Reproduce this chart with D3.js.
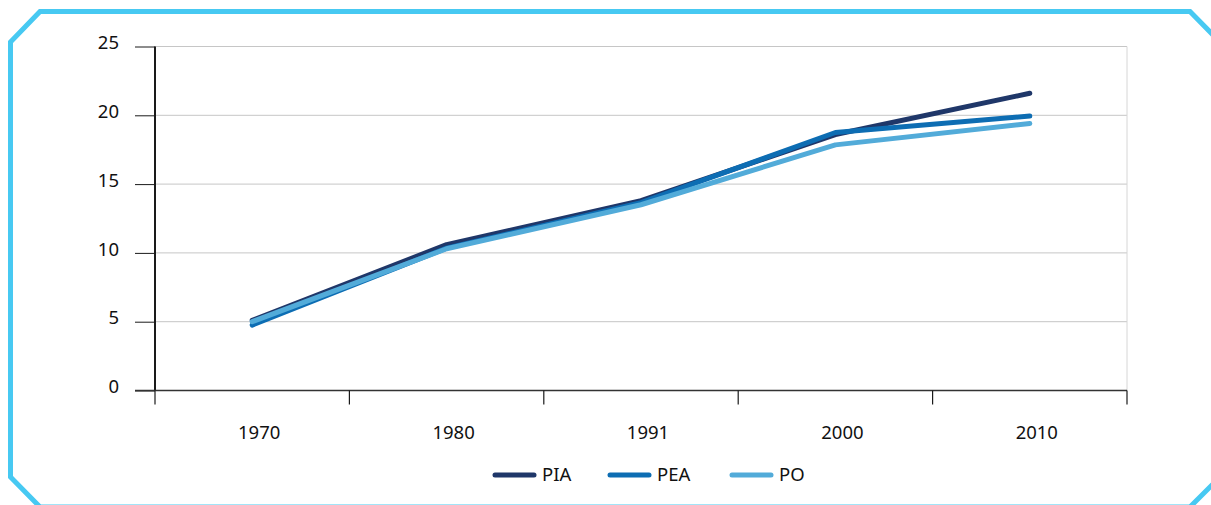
<!DOCTYPE html>
<html>
<head>
<meta charset="utf-8">
<style>
  body { margin: 0; padding: 0; background: #fff; }
  svg { display: block; }
  svg text { font-family: "Noto Sans", "Open Sans", sans-serif; font-size: 18.5px; fill: #111; }
</style>
<script src="https://d3js.org/d3.v7.min.js"></script>
</head>
<body>
<svg id="chart" width="1211" height="505"></svg>
<script>
// Data
const years = ['1970', '1980', '1991', '2000', '2010'];
const pia = [5.1, 10.6, 13.8, 18.6, 21.6];
const pea = [4.75, 10.35, 13.65, 18.75, 19.95];
const po = [5.0, 10.3, 13.5, 17.85, 19.4];
const seriesNames = ['PIA', 'PEA', 'PO'];
const seriesColors = ['#1f3769', '#0d6db3', '#52abd9'];
const yTicks = [0, 5, 10, 15, 20, 25];

const svg = d3.select('#chart');
const margin = { top: 46.5, right: 84, bottom: 114.5, left: 155 };
const width = 1211, height = 505;

// Frame with cut corners
svg.append('path')
  .attr('d', 'M40,11.5 L1190,11.5 L1220,42 L1220,477 L1190,507 L40,507 L10.5,477 L10.5,42 Z')
  .attr('fill', 'none')
  .attr('stroke', '#47c9f2')
  .attr('stroke-width', 5);

const x = d3.scaleBand()
  .domain(years)
  .range([margin.left, width - margin.right])
  .padding(0);

const y = d3.scaleLinear()
  .domain([0, 25])
  .range([height - margin.bottom, margin.top]);

// Gridlines
svg.append('g')
  .selectAll('line')
  .data(yTicks.filter(d => d > 0))
  .enter()
  .append('line')
  .attr('x1', margin.left)
  .attr('x2', width - margin.right)
  .attr('y1', d => y(d))
  .attr('y2', d => y(d))
  .attr('stroke', '#c6c6c6')
  .attr('stroke-width', 1);

// Right border of plot
svg.append('line')
  .attr('x1', width - margin.right)
  .attr('x2', width - margin.right)
  .attr('y1', y(25))
  .attr('y2', y(0))
  .attr('stroke', '#d6d6d6')
  .attr('stroke-width', 1);

// Y axis
const yAxis = d3.axisLeft(y)
  .tickValues(yTicks)
  .tickSize(20)
  .tickPadding(16);

const yg = svg.append('g')
  .attr('transform', `translate(${margin.left}, 0)`)
  .call(yAxis);
yg.attr('font-family', null).attr('font-size', null);
yg.select('.domain').remove();
yg.selectAll('.tick line').attr('stroke', '#1a1a1a');
yg.selectAll('.tick text').attr('dy', '0.12em');

svg.append('line')
  .attr('x1', margin.left)
  .attr('x2', margin.left)
  .attr('y1', y(25))
  .attr('y2', y(0))
  .attr('stroke', '#1a1a1a')
  .attr('stroke-width', 2);

// X axis line
svg.append('line')
  .attr('x1', margin.left - 20)
  .attr('x2', width - margin.right)
  .attr('y1', y(0))
  .attr('y2', y(0))
  .attr('stroke', '#333')
  .attr('stroke-width', 1.5);

// X boundary ticks
const bounds = years.map(d => x(d)).concat([x.range()[1]]);
svg.append('g')
  .selectAll('line')
  .data(bounds)
  .enter()
  .append('line')
  .attr('x1', d => d)
  .attr('x2', d => d)
  .attr('y1', y(0))
  .attr('y2', y(0) + 14)
  .attr('stroke', '#1a1a1a')
  .attr('stroke-width', 1.2);

// X labels
const xAxis = d3.axisBottom(x)
  .tickSize(0)
  .tickPadding(35);

const xg = svg.append('g')
  .attr('transform', `translate(0, ${y(0)})`)
  .call(xAxis);
xg.attr('font-family', null).attr('font-size', null);
xg.select('.domain').remove();
xg.selectAll('.tick text').attr('dx', 7);

// Lines
const allSeries = [pia, pea, po];
const line = d3.line()
  .x((d, i) => x(years[i]) + x.bandwidth() / 2)
  .y(d => y(d));

allSeries.forEach((values, i) => {
  svg.append('path')
    .datum(values)
    .attr('fill', 'none')
    .attr('stroke', seriesColors[i])
    .attr('stroke-width', 5)
    .attr('stroke-linecap', 'round')
    .attr('stroke-linejoin', 'round')
    .attr('d', line);
});

// Legend
const legendX = [493, 608, 730];
const legend = svg.append('g').attr('class', 'legend');
seriesNames.forEach((name, i) => {
  legend.append('line')
    .attr('x1', legendX[i] + 2)
    .attr('x2', legendX[i] + 41)
    .attr('y1', 475)
    .attr('y2', 475)
    .attr('stroke', seriesColors[i])
    .attr('stroke-width', 5)
    .attr('stroke-linecap', 'round');
  legend.append('text')
    .attr('x', legendX[i] + 49)
    .attr('y', 481)
    .text(name);
});
</script>
</body>
</html>
